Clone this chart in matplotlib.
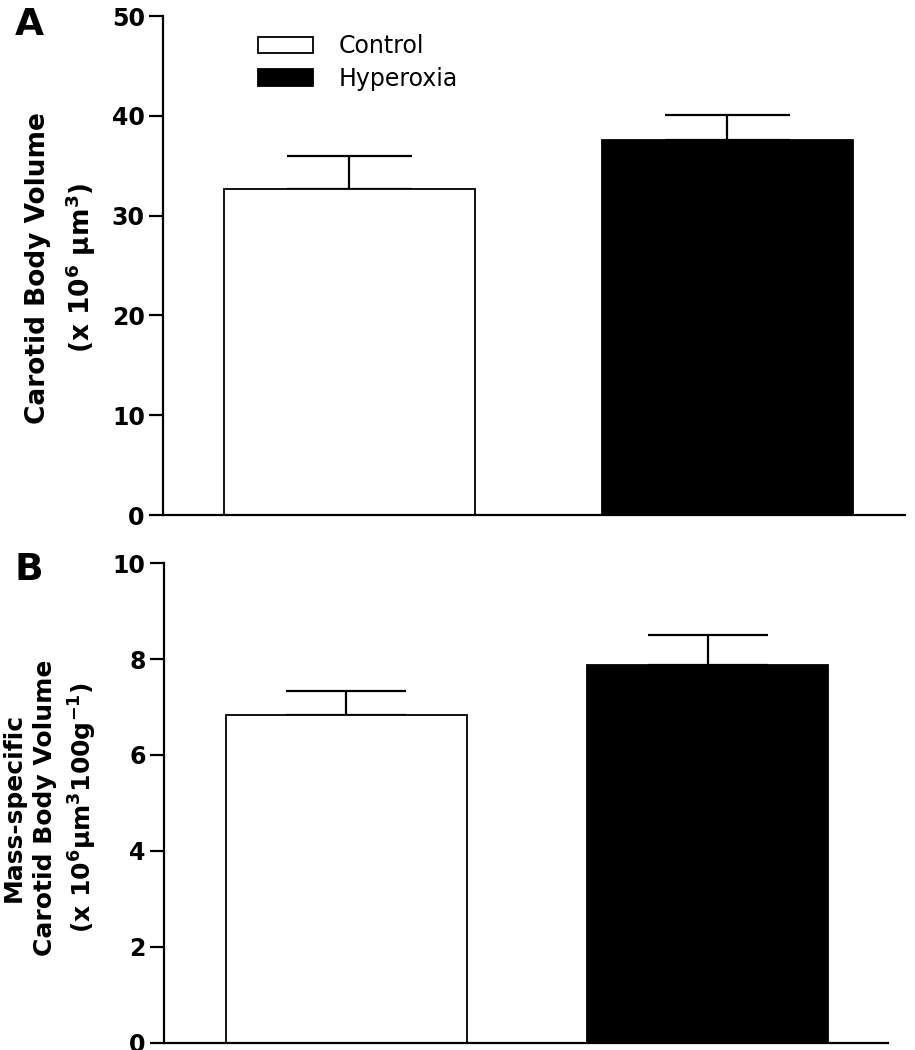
import matplotlib
matplotlib.use('Agg')
import matplotlib.pyplot as plt
from matplotlib.patches import Patch

plt.rcParams['font.family'] = ['DejaVu Sans']
plt.rcParams['mathtext.fontset'] = 'dejavusans'
plt.rcParams['mathtext.default'] = 'bf'

# data
groups = ['Control', 'Hyperoxia']
colors = ['white', 'black']

vol_mean = [32.7, 37.6]
vol_sem = [3.3, 2.5]
vol_ticks = [0, 10, 20, 30, 40, 50]

mass_mean = [6.84, 7.87]
mass_sem = [0.50, 0.62]
mass_ticks = [0, 2, 4, 6, 8, 10]

fig = plt.figure(figsize=(9.15, 10.5), dpi=100)
axA = fig.add_axes([0.178, 0.5095, 0.811, 0.4752])
axB = fig.add_axes([0.179, 0.0067, 0.792, 0.4571])


def panel(ax, means, sems, ticks, width, xlim, cap):
    x = list(range(len(means)))
    ax.bar(x, means, width=width, color=colors, edgecolor='black',
           linewidth=1.3, zorder=2)
    ax.errorbar(x, means, yerr=[[0] * len(sems), sems], fmt='none',
                ecolor='black', elinewidth=1.6, capsize=cap,
                capthick=1.6, zorder=1)
    ax.set_xlim(*xlim)
    ax.set_ylim(ticks[0], ticks[-1])
    ax.set_yticks(ticks)
    ax.set_xticks([])
    for s in ['top', 'right']:
        ax.spines[s].set_visible(False)
    for s in ['left', 'bottom']:
        ax.spines[s].set_linewidth(1.6)
    ax.tick_params(axis='y', length=10, width=1.6, labelsize=17, pad=3)
    for lab in ax.get_yticklabels():
        lab.set_fontweight('bold')


panel(axA, vol_mean, vol_sem, vol_ticks, 0.664, (-0.493, 1.47), 45)
panel(axB, mass_mean, mass_sem, mass_ticks, 0.667, (-0.505, 1.50), 43.5)

axA.set_ylabel('Carotid Body Volume\n(x 10$^{6}$ μm$^{3}$)',
               fontsize=19, fontweight='bold', linespacing=1.45)
axA.yaxis.set_label_coords(-0.088, 0.495)
axB.set_ylabel('Mass-specific\nCarotid Body Volume\n(x 10$^{6}$μm$^{3}$100g$^{-1}$)',
               fontsize=18, fontweight='bold', linespacing=1.4)
axB.yaxis.set_label_coords(-0.089, 0.49)

fig.text(0.016, 0.9933, 'A', fontsize=27, fontweight='bold', va='top')
fig.text(0.016, 0.4743, 'B', fontsize=27, fontweight='bold', va='top')

handles = [Patch(facecolor=c, edgecolor='black', linewidth=1.3) for c in colors]
axA.legend(handles, groups, loc='upper left', bbox_to_anchor=(0.1, 1.006),
           frameon=False, fontsize=17, handlelength=2.3, handleheight=0.72,
           handletextpad=1.1, labelspacing=0.35)

fig.savefig('out.png', dpi=100)
